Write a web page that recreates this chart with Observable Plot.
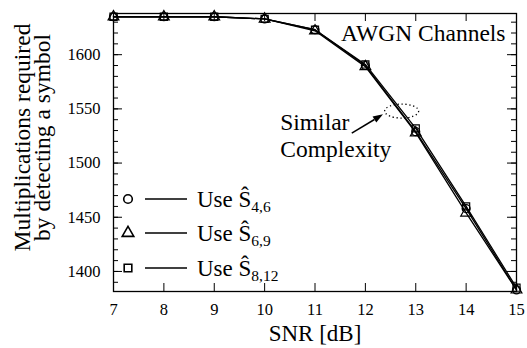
<!DOCTYPE html>
<html>
<head>
<meta charset="utf-8">
<script src="https://cdn.jsdelivr.net/npm/d3@7"></script>
<script src="https://cdn.jsdelivr.net/npm/@observablehq/plot@0.6"></script>
<style>
  html, body { margin: 0; padding: 0; background: white; }
</style>
</head>
<body>
<div id="chart"></div>
<script>
// ---- data ----
const snr = [7, 8, 9, 10, 11, 12, 13, 14, 15];
const s46 = [1635, 1635, 1635, 1633, 1623, 1590, 1529, 1458, 1383];
const s69 = [1635, 1635, 1635, 1633, 1622, 1589, 1528, 1454, 1383];
const s812 = [1635, 1635, 1635, 1633, 1623, 1591, 1532, 1460, 1385];
const seriesNames = ["Use Ŝ4,6", "Use Ŝ6,9", "Use Ŝ8,12"];
const seriesSubs = ["4,6", "6,9", "8,12"];
const seriesSymbols = ["circle", "triangle", "square"];
const xTicks = [7, 8, 9, 10, 11, 12, 13, 14, 15];
const yMajor = [1400, 1450, 1500, 1550, 1600];
const yMinor = [1390, 1400, 1410, 1420, 1430, 1440, 1450, 1460, 1470, 1480, 1490, 1500, 1510,
                1520, 1530, 1540, 1550, 1560, 1570, 1580, 1590, 1600, 1610, 1620, 1630];
const xLabel = "SNR [dB]";
const yLabel = "Multiplications required\nby detecting a symbol";
const titleText = "AWGN Channels";
const noteText = "Similar\nComplexity";
const noteAt = {x: 10.31, y: 1526};
const ellipseAt = {x: 12.73, y: 1547.5};
const arrowFrom = {x: 11.74, y: 1527.2};
const arrowTo = {x: 12.36, y: 1544.5};

// ---- layout ----
const W = 527, H = 348, mL = 113, mR = 11, mT = 13, mB = 57;
const iW = W - mL - mR, iH = H - mT - mB;
const FONT = "Liberation Serif";

const allSeries = [s46, s69, s812];
const rows = [];
allSeries.forEach((vals, i) => vals.forEach((v, j) => rows.push({snr: snr[j], value: v, series: seriesNames[i], sym: seriesSymbols[i]})));

const marks = [];
// inward ticks
marks.push(Plot.ruleX(xTicks, {x: d => d, insetTop: iH - 8, stroke: "black", strokeWidth: 1}));
marks.push(Plot.ruleX(xTicks, {x: d => d, insetBottom: iH - 8, stroke: "black", strokeWidth: 1}));
marks.push(Plot.ruleY(yMinor, {y: d => d, insetRight: iW - 5, stroke: "black", strokeWidth: 1}));
marks.push(Plot.ruleY(yMinor, {y: d => d, insetLeft: iW - 5, stroke: "black", strokeWidth: 1}));
marks.push(Plot.ruleY(yMajor, {y: d => d, insetRight: iW - 9, stroke: "black", strokeWidth: 1}));
marks.push(Plot.ruleY(yMajor, {y: d => d, insetLeft: iW - 9, stroke: "black", strokeWidth: 1}));

// series
seriesNames.forEach((name, i) => {
  const data = rows.filter(r => r.series === name);
  marks.push(Plot.line(data, {x: "snr", y: "value", stroke: "black", strokeWidth: 1.3}));
  marks.push(Plot.dot(data, {x: "snr", y: "value", symbol: seriesSymbols[i], r: 4, stroke: "black", strokeWidth: 1.2, fill: "none"}));
});

marks.push(Plot.frame({stroke: "black", strokeWidth: 1.3}));

marks.push(Plot.axisX(xTicks, {tickSize: 0, tickPadding: 12, fontSize: 16.5, fontFamily: FONT, label: null, tickFormat: d => String(d)}));
marks.push(Plot.axisY(yMajor, {tickSize: 0, tickPadding: 13, fontSize: 16.5, fontFamily: FONT, label: null, tickFormat: d => String(d)}));

// labels
marks.push(Plot.text([xLabel], {text: d => d, frameAnchor: "bottom", lineAnchor: "middle", dy: 42, fontSize: 23, fontFamily: FONT}));
marks.push(Plot.text([yLabel], {text: d => d, frameAnchor: "left", textAnchor: "middle", lineAnchor: "middle", dx: -80, dy: -15, rotate: -90, fontSize: 23.5, lineHeight: 0.88, fontFamily: FONT}));
marks.push(Plot.text([titleText], {text: d => d, frameAnchor: "top-right", lineAnchor: "middle", dx: -11, dy: 20, textAnchor: "end", fontSize: 23.5, fontFamily: FONT}));
marks.push(Plot.text([noteText], {text: d => d, x: noteAt.x, y: noteAt.y, textAnchor: "start", lineAnchor: "middle", fontSize: 23.5, lineHeight: 1.15, fontFamily: FONT}));

const svg = Plot.plot({
  width: W, height: H,
  marginLeft: mL, marginRight: mR, marginTop: mT, marginBottom: mB,
  style: {background: "white", color: "black"},
  x: {domain: [7, 15]},
  y: {domain: [1381.5, 1638]},
  marks
});
svg.setAttribute("font-family", FONT);

const xs = svg.scale("x"), ys = svg.scale("y");
const sel = d3.select(svg);

// annotation: dotted ellipse
sel.append("ellipse")
  .attr("cx", xs.apply(ellipseAt.x)).attr("cy", ys.apply(ellipseAt.y))
  .attr("rx", 17).attr("ry", 7)
  .attr("fill", "none").attr("stroke", "black").attr("stroke-width", 1.3)
  .attr("stroke-dasharray", "1.3,2.6");

// annotation: arrow with filled head
{
  const ax1 = xs.apply(arrowFrom.x), ay1 = ys.apply(arrowFrom.y);
  const ax2 = xs.apply(arrowTo.x), ay2 = ys.apply(arrowTo.y);
  const ang = Math.atan2(ay2 - ay1, ax2 - ax1);
  const hl = 10, hw = 3.6;
  const bx = ax2 - hl * Math.cos(ang), by = ay2 - hl * Math.sin(ang);
  sel.append("line").attr("x1", ax1).attr("y1", ay1).attr("x2", bx).attr("y2", by)
    .attr("stroke", "black").attr("stroke-width", 1.5);
  const px = -Math.sin(ang) * hw, py = Math.cos(ang) * hw;
  sel.append("path")
    .attr("d", `M${ax2},${ay2}L${bx + px},${by + py}L${bx - px},${by - py}Z`)
    .attr("fill", "black");
}

// legend
const lg = sel.append("g").attr("transform", `translate(${mL},${H - mB})`)
  .attr("text-anchor", "start");
const offs = [-92, -58, -23];
seriesNames.forEach((name, i) => {
  const y = offs[i];
  const symType = {circle: d3.symbolCircle, triangle: d3.symbolTriangle, square: d3.symbolSquare}[seriesSymbols[i]];
  lg.append("path")
    .attr("d", d3.symbol(symType, Math.PI * 4.3 * 4.3)())
    .attr("transform", `translate(15,${y})`)
    .attr("fill", "white").attr("stroke", "black").attr("stroke-width", 1.6);
  lg.append("line").attr("x1", 32).attr("x2", 74).attr("y1", y).attr("y2", y)
    .attr("stroke", "black").attr("stroke-width", 1.5);
  const t = lg.append("text").attr("x", 84).attr("y", y + 8).attr("font-size", 23)
    .attr("fill", "black").attr("text-anchor", "start");
  t.append("tspan").text(name.replace(seriesSubs[i], ""));
  t.append("tspan").attr("dy", 5).attr("font-size", 15.5).text(seriesSubs[i]);
});

sel.selectAll("text, tspan").attr("font-family", FONT).style("font-family", FONT);

document.getElementById("chart").appendChild(svg);
</script>
</body>
</html>
